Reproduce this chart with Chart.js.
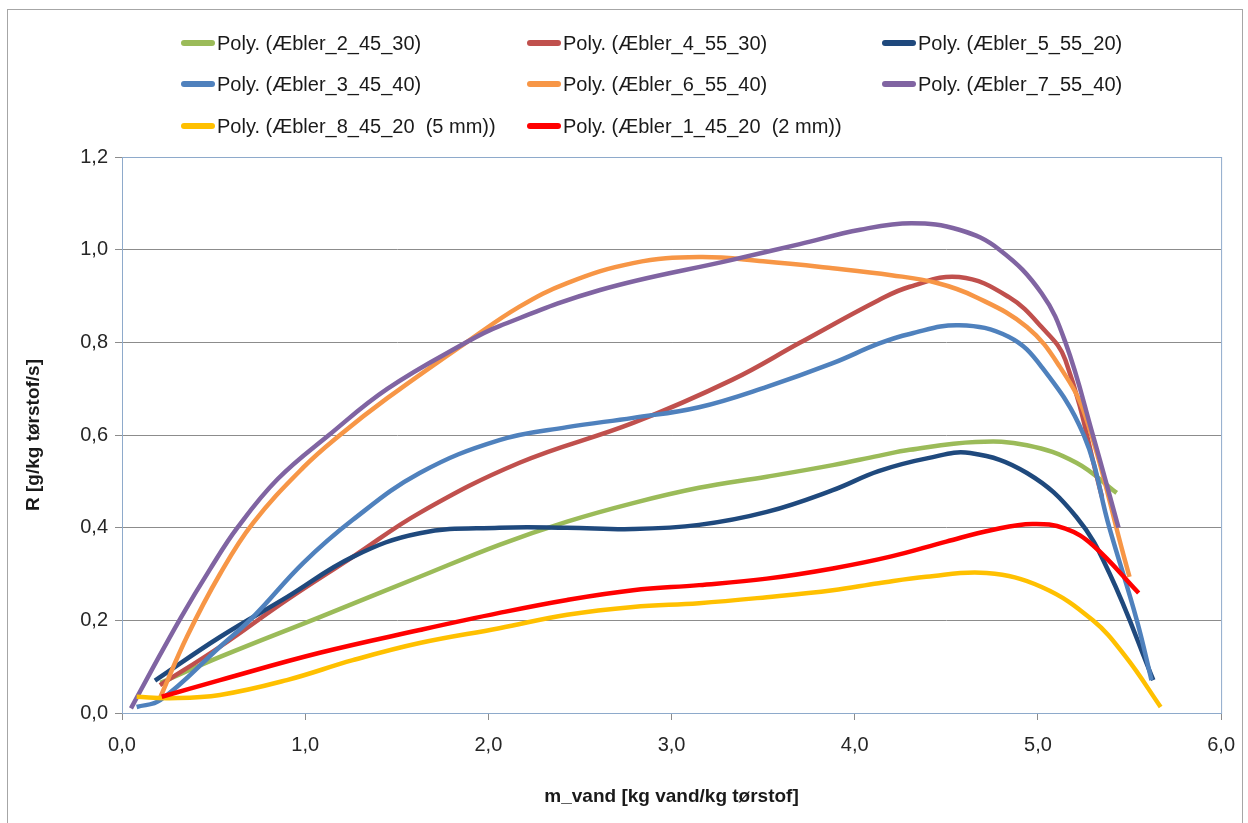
<!DOCTYPE html>
<html>
<head>
<meta charset="utf-8">
<script src="https://cdn.jsdelivr.net/npm/chart.js@4.4.1/dist/chart.umd.min.js"></script>
<style>
  body { margin: 0; background: #fff; }
  #wrap { position: relative; width: 1248px; height: 823px; overflow: hidden; }
  #frame { position: absolute; left: 7px; top: 9px; width: 1234px; height: 830px; border: 1px solid #a6a6a6; }
  #legend .item { position: absolute; display: flex; align-items: center; height: 30px; margin-top: -15px;
    font: 20px "Liberation Sans", Arial, sans-serif; color: #1a1a1a; white-space: pre; }
  #legend .line { display: inline-block; width: 34px; height: 6px; border-radius: 3px; margin-right: 2px; }
  canvas { position: absolute; left: 0; top: 0; }
</style>
</head>
<body>
<div id="wrap">
  <div id="frame"></div>
  <canvas id="chart" width="1248" height="823"></canvas>
  <div id="legend"></div>
</div>
<script>
// legend order (3 columns, row by row)
const seriesNames = [
  'Poly. (Æbler_2_45_30)', 'Poly. (Æbler_4_55_30)', 'Poly. (Æbler_5_55_20)',
  'Poly. (Æbler_3_45_40)', 'Poly. (Æbler_6_55_40)', 'Poly. (Æbler_7_55_40)',
  'Poly. (Æbler_8_45_20  (5 mm))', 'Poly. (Æbler_1_45_20  (2 mm))'
];
const seriesColors = ['#9bbb59', '#c0504d', '#1f497d', '#4f81bd', '#f79646', '#8064a2', '#ffc000', '#ff0000'];

// trendline values (x = m_vand, y = R)
const x2 = [0.21, 0.535, 1.08, 1.625, 2.06, 2.43, 2.79, 3.15, 3.52, 3.88, 4.13, 4.30, 4.66, 4.94, 5.21, 5.43];
const y2 = [0.065, 0.121, 0.207, 0.294, 0.363, 0.413, 0.453, 0.486, 0.51, 0.535, 0.555, 0.568, 0.585, 0.578, 0.54, 0.475];

const x4 = [0.207, 0.535, 0.9, 1.26, 1.625, 2.17, 2.79, 3.33, 3.70, 4.13, 4.30, 4.57, 4.84, 5.02, 5.15, 5.35];
const y4 = [0.06, 0.143, 0.244, 0.337, 0.432, 0.54, 0.626, 0.719, 0.799, 0.891, 0.92, 0.941, 0.898, 0.833, 0.762, 0.466];

const x5 = [0.18, 0.535, 0.9, 1.26, 1.625, 2.06, 2.43, 2.79, 3.15, 3.52, 3.88, 4.13, 4.40, 4.63, 4.94, 5.21, 5.39, 5.63];
const y5 = [0.07, 0.164, 0.25, 0.337, 0.388, 0.40, 0.40, 0.397, 0.406, 0.434, 0.481, 0.522, 0.55, 0.561, 0.518, 0.423, 0.302, 0.071];

const x3 = [0.08, 0.21, 0.535, 0.715, 0.99, 1.26, 1.625, 2.06, 2.43, 2.79, 3.15, 3.52, 3.88, 4.13, 4.30, 4.57, 4.84, 5.02, 5.25, 5.39, 5.54, 5.62];
const y3 = [0.013, 0.028, 0.143, 0.207, 0.324, 0.417, 0.518, 0.589, 0.617, 0.637, 0.66, 0.704, 0.755, 0.797, 0.818, 0.837, 0.812, 0.747, 0.60, 0.40, 0.20, 0.071];

const x6 = [0.207, 0.355, 0.535, 0.715, 0.99, 1.19, 1.45, 1.88, 2.17, 2.43, 2.79, 3.15, 3.50, 3.88, 4.20, 4.45, 4.66, 4.94, 5.12, 5.26, 5.47, 5.50];
const y6 = [0.032, 0.165, 0.30, 0.41, 0.53, 0.60, 0.68, 0.80, 0.877, 0.928, 0.971, 0.984, 0.975, 0.96, 0.945, 0.928, 0.898, 0.833, 0.747, 0.64, 0.337, 0.294];

const x7 = [0.049, 0.153, 0.32, 0.48, 0.63, 0.85, 1.13, 1.45, 1.88, 2.06, 2.61, 3.33, 3.70, 4.03, 4.31, 4.57, 4.79, 5.02, 5.15, 5.30, 5.44];
const y7 = [0.01, 0.086, 0.205, 0.31, 0.40, 0.505, 0.60, 0.70, 0.80, 0.835, 0.913, 0.978, 1.012, 1.043, 1.057, 1.043, 1.0, 0.906, 0.80, 0.60, 0.40];

const x8 = [0.08, 0.26, 0.535, 0.9, 1.26, 1.625, 2.06, 2.43, 2.79, 3.15, 3.52, 3.88, 4.13, 4.39, 4.72, 5.02, 5.30, 5.48, 5.67];
const y8 = [0.035, 0.032, 0.039, 0.071, 0.114, 0.151, 0.183, 0.212, 0.229, 0.237, 0.25, 0.265, 0.28, 0.294, 0.302, 0.272, 0.20, 0.121, 0.013];

const x1 = [0.217, 0.535, 1.08, 1.625, 2.06, 2.43, 2.79, 3.15, 3.52, 3.88, 4.20, 4.50, 4.75, 4.97, 5.15, 5.30, 5.55];
const y1 = [0.035, 0.071, 0.13, 0.179, 0.216, 0.244, 0.265, 0.276, 0.29, 0.312, 0.338, 0.37, 0.395, 0.408, 0.398, 0.362, 0.259];

const seriesX = [x2, x4, x5, x3, x6, x7, x8, x1];
const seriesY = [y2, y4, y5, y3, y6, y7, y8, y1];

const datasets = seriesNames.map((name, i) => ({
  label: name,
  data: seriesX[i].map((x, j) => ({ x: x, y: seriesY[i][j] })),
  borderColor: seriesColors[i],
  borderWidth: 4.5,
  pointRadius: 0,
  fill: false,
  tension: 0.4,
  order: seriesNames.length - i
}));

// HTML legend in three columns (left edge of the colour line)
const legendCols = [181, 527, 882];
const legendRows = [43, 84, 126];
const legendEl = document.getElementById('legend');
seriesNames.forEach((name, i) => {
  const item = document.createElement('div');
  item.className = 'item';
  item.style.left = legendCols[i % 3] + 'px';
  item.style.top = legendRows[Math.floor(i / 3)] + 'px';
  const line = document.createElement('span');
  line.className = 'line';
  line.style.background = seriesColors[i];
  const txt = document.createElement('span');
  txt.textContent = name;
  item.appendChild(line);
  item.appendChild(txt);
  legendEl.appendChild(item);
});

const plotBorder = {
  id: 'plotBorder',
  beforeDatasetsDraw(chart) {
    const a = chart.chartArea, ctx = chart.ctx;
    ctx.save();
    ctx.strokeStyle = '#8eaacb';
    ctx.lineWidth = 1;
    ctx.strokeRect(a.left + 0.5, a.top + 0.5, a.right - a.left, a.bottom - a.top);
    ctx.restore();
  }
};

const comma = v => Number(v).toFixed(1).replace('.', ',');
const tickFont = { family: '"Liberation Sans", Arial, sans-serif', size: 20 };
const titleFont = { family: '"Liberation Sans", Arial, sans-serif', size: 19, weight: 'bold' };

new Chart(document.getElementById('chart'), {
  type: 'line',
  data: { datasets },
  options: {
    responsive: false,
    animation: false,
    layout: { padding: { top: 157, right: 26, left: 0, bottom: 0 } },
    plugins: { legend: { display: false }, tooltip: { enabled: false } },
    scales: {
      x: {
        type: 'linear', min: 0, max: 6,
        ticks: { stepSize: 1, callback: comma, font: tickFont, color: '#262626', padding: 13, maxRotation: 0 },
        grid: { drawOnChartArea: false, drawTicks: true, tickLength: 7, color: '#8c8c8c' },
        border: { color: '#8c8c8c' },
        title: { display: true, text: 'm_vand [kg vand/kg tørstof]', font: titleFont, color: '#1a1a1a', padding: { top: 0, bottom: 15 } },
        afterFit(s) { s.height = 110; }
      },
      y: {
        min: 0, max: 1.2,
        ticks: { stepSize: 0.2, callback: comma, font: tickFont, color: '#262626', padding: 7 },
        grid: { color: '#8c8c8c', tickLength: 7 },
        border: { color: '#8c8c8c' },
        title: { display: true, text: 'R [g/kg tørstof/s]', font: titleFont, color: '#1a1a1a', padding: { top: 22, bottom: 0 } },
        afterFit(s) { s.width = 122; }
      }
    }
  },
  plugins: [plotBorder]
});
</script>
</body>
</html>
